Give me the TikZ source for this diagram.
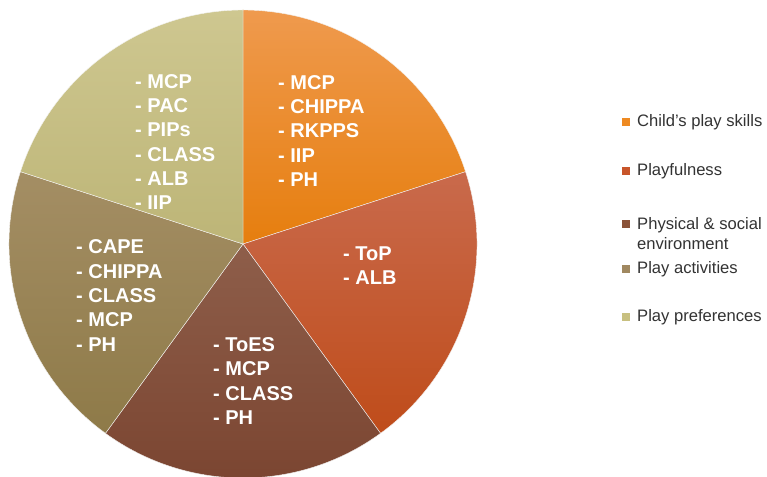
\documentclass[tikz,border=0pt]{standalone}
\usepackage{fontspec}
\setmainfont{Liberation Sans}
\definecolor{orA}{HTML}{EF9A4E}\definecolor{orB}{HTML}{E67E0E}
\definecolor{rdA}{HTML}{C96A4C}\definecolor{rdB}{HTML}{BF4C1A}
\definecolor{brA}{HTML}{8E5E4A}\definecolor{brB}{HTML}{7A4430}
\definecolor{tnA}{HTML}{A48E64}\definecolor{tnB}{HTML}{8E7A48}
\definecolor{ltA}{HTML}{CEC790}\definecolor{ltB}{HTML}{BDB577}
\definecolor{orL}{HTML}{EE8A22}\definecolor{rdL}{HTML}{C8552A}
\definecolor{brL}{HTML}{8A5238}\definecolor{tnL}{HTML}{A08860}
\definecolor{ltL}{HTML}{C8C080}
\definecolor{legtext}{HTML}{333333}
\tikzset{
  slice/.style={draw=white!60!black!10, line width=0.4pt},
  slicetext/.style={text=white, anchor=west, inner sep=0pt, align=left,
    font=\bfseries\fontsize{20}{24.3}\selectfont},
  legbox/.style={minimum size=8pt, inner sep=0pt, draw=none},
  legtextstyle/.style={text=legtext, anchor=west, inner sep=0pt, align=left,
    font=\fontsize{16.6}{19.5}\selectfont},
}
\begin{document}
\begin{tikzpicture}[x=1pt,y=1pt]
\useasboundingbox (0,0) rectangle (767,476);
\fill[white] (0,0) rectangle (767,476);
\coordinate (C) at (243,232);
\def\R{234}
% slices
\path[slice, top color=orA, bottom color=orB] (C) -- ++(90:\R) arc[start angle=90, end angle=18, radius=\R] -- cycle;
\path[slice, top color=rdA, bottom color=rdB] (C) -- ++(18:\R) arc[start angle=18, end angle=-54, radius=\R] -- cycle;
\path[slice, top color=brA, bottom color=brB] (C) -- ++(-54:\R) arc[start angle=-54, end angle=-126, radius=\R] -- cycle;
\path[slice, top color=tnA, bottom color=tnB] (C) -- ++(-126:\R) arc[start angle=-126, end angle=-198, radius=\R] -- cycle;
\path[slice, top color=ltA, bottom color=ltB] (C) -- ++(162:\R) arc[start angle=162, end angle=90, radius=\R] -- cycle;
% slice texts
\node[slicetext] (t1) at (278,345) {- MCP\\- CHIPPA\\- RKPPS\\- IIP\\- PH};
\node[slicetext] (t2) at (343,210.5) {- ToP\\- ALB};
\node[slicetext] (t3) at (213,95) {- ToES\\- MCP\\- CLASS\\- PH};
\node[slicetext] (t4) at (76,180.5) {- CAPE\\- CHIPPA\\- CLASS\\- MCP\\- PH};
\node[slicetext] (t5) at (135,334) {- MCP\\- PAC\\- PIPs\\- CLASS\\- ALB\\- IIP};
% legend
\node[legbox, fill=orL] (b1) at (626,354) {};
\node[legtextstyle] (l1) at (637,354) {Child’s play skills};
\node[legbox, fill=rdL] (b2) at (626,305) {};
\node[legtextstyle] (l2) at (637,305) {Playfulness};
\node[legbox, fill=brL] (b3) at (626,252) {};
\node[legtextstyle] (l3) at (637,242.5) {Physical \& social\\environment};
\node[legbox, fill=tnL] (b4) at (626,207) {};
\node[legtextstyle] (l4) at (637,207) {Play activities};
\node[legbox, fill=ltL] (b5) at (626,159) {};
\node[legtextstyle] (l5) at (637,159) {Play preferences};
\end{tikzpicture}
\end{document}
